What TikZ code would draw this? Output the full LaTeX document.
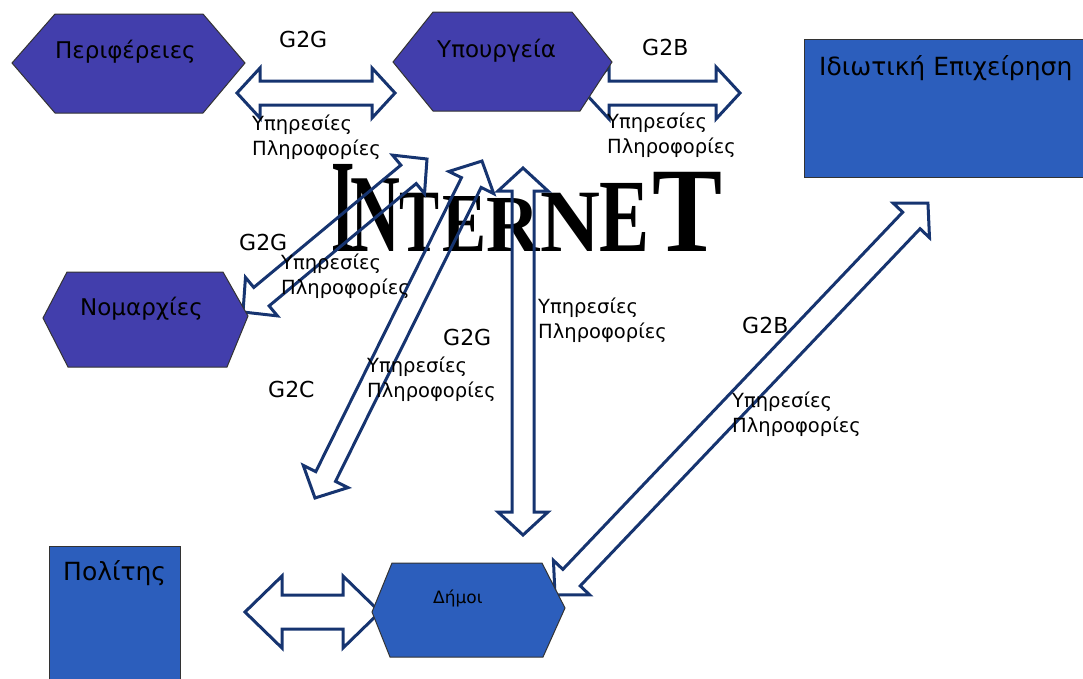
\documentclass[tikz,border=0pt]{standalone}
\usepackage{graphicx}
\usepackage{fontspec}
\setmainfont{DejaVu Sans}
\newfontfamily\internetfont{Liberation Serif}
\usetikzlibrary{calc}

\definecolor{lila}{RGB}{66,62,172}
\definecolor{blau}{RGB}{44,94,188}
\definecolor{pfeilblau}{RGB}{22,52,112}

% Blockpfeil mit zwei Spitzen: von, nach, Kopfbreite/2, Schaftbreite/2, Kopflaenge
\newcommand{\doppelpfeil}[5]{%
  \draw[pfeil] let \p1=($(#2)-(#1)$), \n1={atan2(\y1,\x1)}, \n2={veclen(\x1,\y1)} in
    [shift={(#1)}, rotate=\n1]
    (0,0) -- (#5,#3) -- (#5,#4) -- (\n2-#5,#4) -- (\n2-#5,#3) -- (\n2,0)
    -- (\n2-#5,-#3) -- (\n2-#5,-#4) -- (#5,-#4) -- (#5,-#3) -- cycle;
}

\begin{document}
\begin{tikzpicture}[x=1pt, y=-1pt,
    pfeil/.style={draw=pfeilblau, line width=3pt, line join=miter},
    sechseck/.style={fill=lila, draw=black!80, line width=1pt},
    kasten/.style={fill=blau, draw=black!80, line width=1pt},
    knotentext/.style={anchor=base west, inner sep=0pt, font=\fontsize{23}{27}\selectfont},
    gtext/.style={anchor=base west, inner sep=0pt, font=\fontsize{22}{26}\selectfont},
    infotext/.style={anchor=base west, inner sep=0pt, align=left, font=\fontsize{19.5}{25}\selectfont}]
  \useasboundingbox (0,0) rectangle (1083,678);
  % INTERNET
  \foreach \bst/\xm/\xs/\ys [count=\i] in {I/343/0.60/1.33, N/375/0.69/1.11, T/420/0.60/0.89,
      E/465/0.66/0.84, R/513/0.74/0.81, N/570/0.83/0.89, E/625/0.75/1.04, T/688/1.05/1.21}
    \node[anchor=base, inner sep=0pt] (inet\i) at (\xm,251)
      {\internetfont\bfseries\fontsize{100}{100}\selectfont\scalebox{\xs}[\ys]{\bst}};
  % Endpunkte der Pfeile
  \coordinate (pa1) at (237,93);  \coordinate (pb1) at (395,93);
  \coordinate (pa2) at (585,93);  \coordinate (pb2) at (740,93);
  \coordinate (pa3) at (243,312); \coordinate (pb3) at (427,159);
  \coordinate (pa4) at (315,498); \coordinate (pb4) at (482,161);
  \coordinate (pa5) at (523,168); \coordinate (pb5) at (523,535);
  \coordinate (pa6) at (555,595); \coordinate (pb6) at (928,203);
  \coordinate (pa7) at (245,612); \coordinate (pb7) at (380,612);
  % Pfeile
  \doppelpfeil{pa1}{pb1}{25}{12}{23}
  \doppelpfeil{pa2}{pb2}{26}{12}{24}
  \doppelpfeil{pa3}{pb3}{25}{12}{24}
  \doppelpfeil{pa4}{pb4}{25}{11}{24}
  \doppelpfeil{pa5}{pb5}{25}{11}{23}
  \doppelpfeil{pa6}{pb6}{25}{12}{24}
  \doppelpfeil{pa7}{pb7}{36}{17}{37}
  % Sechsecke
  \draw[sechseck] (12,63) -- (55,14) -- (203,14) -- (245,63) -- (203,113) -- (55,113) -- cycle;
  \draw[sechseck] (393,62) -- (433,12) -- (572,12) -- (612,62) -- (580,111) -- (433,111) -- cycle;
  \draw[sechseck] (43,318) -- (67,272) -- (223,272) -- (248,316) -- (227,367) -- (68,367) -- cycle;
  \draw[sechseck, fill=blau] (372,612) -- (392,563) -- (542,563) -- (565,608) -- (543,657) -- (390,657) -- cycle;
  % Kaesten
  \draw[kasten] (804,39) rectangle (1090,177);
  \draw[kasten] (49,546) rectangle (180,690);
  % Beschriftung der Knoten
  \node[knotentext] (peri) at (55,58) {Περιφέρειες};
  \node[knotentext] (ypourg) at (437,57) {Υπουργεία};
  \node[knotentext] (nomar) at (80,315) {Νομαρχίες};
  \node[knotentext, font=\fontsize{17}{20}\selectfont] (dimoi) at (433,603) {Δήμοι};
  \node[knotentext, font=\fontsize{25}{30}\selectfont] (politis) at (63,580) {Πολίτης};
  \node[knotentext, font=\fontsize{25}{30}\selectfont] (idiot) at (819,75) {Ιδιωτική Επιχείρηση};
  % G2G, G2B, G2C
  \node[gtext] (gg1) at (279,47) {G2G};
  \node[gtext] (gb1) at (642,55) {G2B};
  \node[gtext] (gg2) at (239,250) {G2G};
  \node[gtext] (gg3) at (443,345) {G2G};
  \node[gtext] (gc1) at (268,397) {G2C};
  \node[gtext] (gb2) at (742,333) {G2B};
  % Υπηρεσίες / Πληροφορίες
  \node[infotext] (info1) at (252,155) {Υπηρεσίες\\Πληροφορίες};
  \node[infotext] (info2) at (607,153) {Υπηρεσίες\\Πληροφορίες};
  \node[infotext] (info3) at (281,294) {Υπηρεσίες\\Πληροφορίες};
  \node[infotext] (info4) at (367,397) {Υπηρεσίες\\Πληροφορίες};
  \node[infotext] (info5) at (538,338) {Υπηρεσίες\\Πληροφορίες};
  \node[infotext] (info6) at (732,432) {Υπηρεσίες\\Πληροφορίες};
\end{tikzpicture}
\end{document}
